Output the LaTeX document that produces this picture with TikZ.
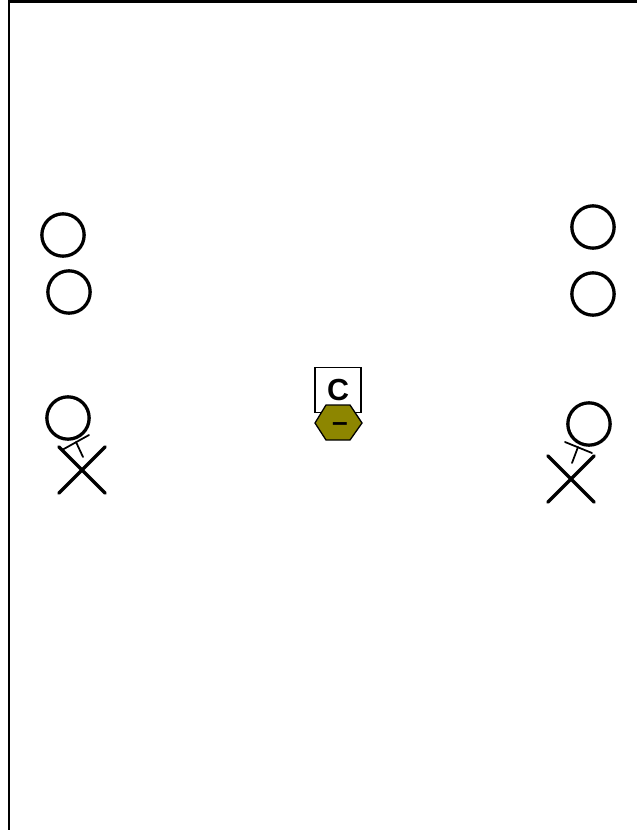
\documentclass[tikz,border=0pt]{standalone}
\usepackage{fontspec}
\setmainfont{Liberation Sans}
\usetikzlibrary{shapes.misc}

\begin{document}
\begin{tikzpicture}[x=0.03cm, y=-0.03cm, line cap=round,
    player/.style={circle, draw, line width=2.8pt, minimum size=1.27cm, inner sep=0pt},
    xmark/.style={cross out, draw, line width=2.8pt, minimum size=1.3cm, inner sep=0pt},
    stick/.style={line width=1.5pt}]
    \useasboundingbox (0,0) rectangle (636,830);
    % field edge
    \draw[line width=1.8pt, line cap=butt] (9,832) -- (9,1.5) -- (638,1.5);
    % left side
    \node[player] (l1) at (63,235) {};
    \node[player] (l2) at (69,292) {};
    \node[player] (l3) at (68,418) {};
    \node[xmark] (lx) at (82,470) {};
    % right side
    \node[player] (r1) at (593,227) {};
    \node[player] (r2) at (593,294) {};
    \node[player] (r3) at (589,424) {};
    \node[xmark] (rx) at (571,479) {};
    % sticks
    \draw[stick] (62,450) -- (89,435);
    \draw[stick] (76,442) -- (83,457);
    \draw[stick] (565,442) -- (592,453);
    \draw[stick] (578,447) -- (572,463);
    % coach
    \node[draw, line width=1.1pt, minimum width=1.38cm, minimum height=1.35cm, inner sep=0pt,
          font=\fontsize{26}{26}\selectfont\bfseries] (coach) at (338,390) {C};
    \draw[line width=1.1pt, fill=olive] (315,423) -- (326,405) -- (350,405) -- (362,423)
        -- (350,440) -- (326,440) -- cycle;
    \node[font=\fontsize{24}{24}\selectfont\bfseries, inner sep=0pt, anchor=base]
        (minus) at (340,431) {–};
\end{tikzpicture}
\end{document}
